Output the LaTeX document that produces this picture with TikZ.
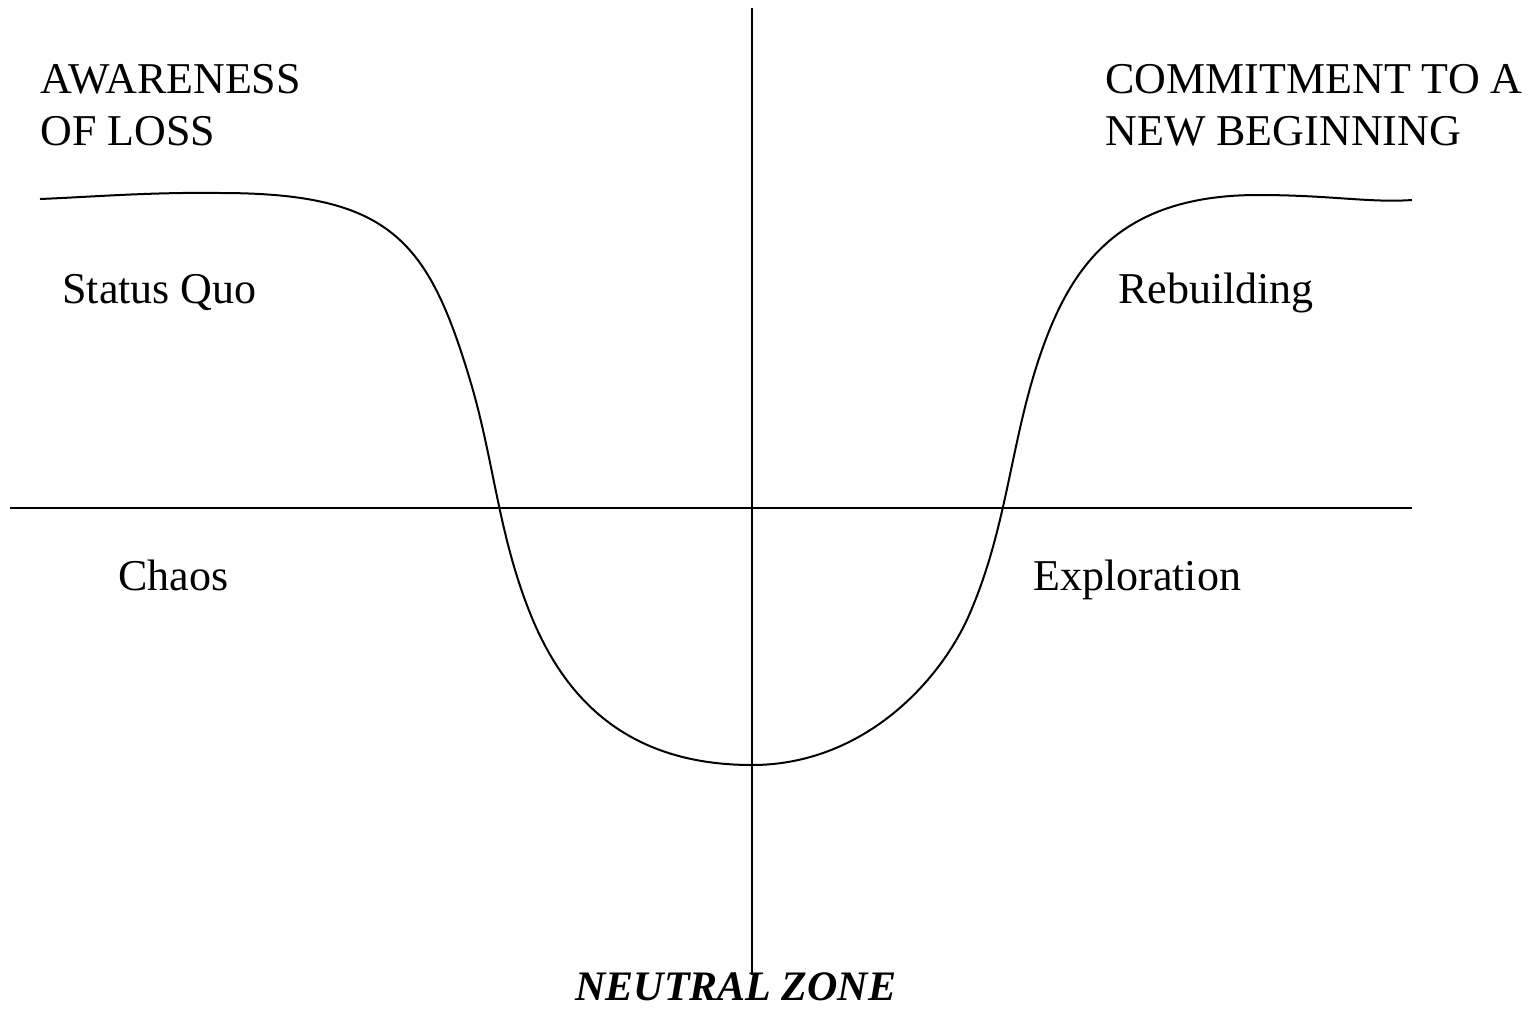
\documentclass[tikz,border=0pt]{standalone}
\usepackage{fontspec}
\setmainfont{Liberation Serif}
\begin{document}
\begin{tikzpicture}[x=0.5pt,y=-0.5pt,
  lbl/.style={anchor=base west, inner sep=0pt, font=\fontsize{22}{26}\selectfont},
  axis/.style={line width=1pt, black},
  curve/.style={line width=1pt, black}]
\useasboundingbox (0,0) rectangle (1538,1008);
% axes
\coordinate (vtop) at (752,8);
\coordinate (vbot) at (752,975);
\coordinate (hleft) at (10,508);
\coordinate (hright) at (1412,508);
\draw[axis] (vtop) -- (vbot);
\draw[axis] (hleft) -- (hright);
% curve
\coordinate (cstart) at (40,199);
\coordinate (cend) at (1412,200);
\draw[curve] (cstart) .. controls (90,197) and (150,192) .. (220,193)
  .. controls (390,193) and (428,240) .. (470,380)
  .. controls (494,460) and (498,533) .. (530,613)
  .. controls (562,693) and (622,765) .. (752,765)
  .. controls (862,765) and (939.9,683) .. (970,613)
  .. controls (1008.7,523) and (1010.6,437) .. (1043,347)
  .. controls (1073.6,262) and (1123,195) .. (1258,195)
  .. controls (1330,195) and (1370,203) .. (cend);
% labels
\node[lbl] (awareness) at (40,93) {AWARENESS};
\node[lbl] (ofloss) at (40,145) {OF LOSS};
\node[lbl] (commit) at (1105,93) {COMMITMENT TO A};
\node[lbl] (newbeg) at (1105,145) {NEW BEGINNING};
\node[lbl] (status) at (62,303) {Status Quo};
\node[lbl] (rebuild) at (1118,303) {Rebuilding};
\node[lbl] (chaos) at (118,590) {Chaos};
\node[lbl] (explore) at (1033,590) {Exploration};
\node[anchor=base west, inner sep=0pt, font=\fontsize{21}{25}\selectfont\bfseries\itshape] (neutral) at (575,1000) {NEUTRAL ZONE};
\end{tikzpicture}
\end{document}
